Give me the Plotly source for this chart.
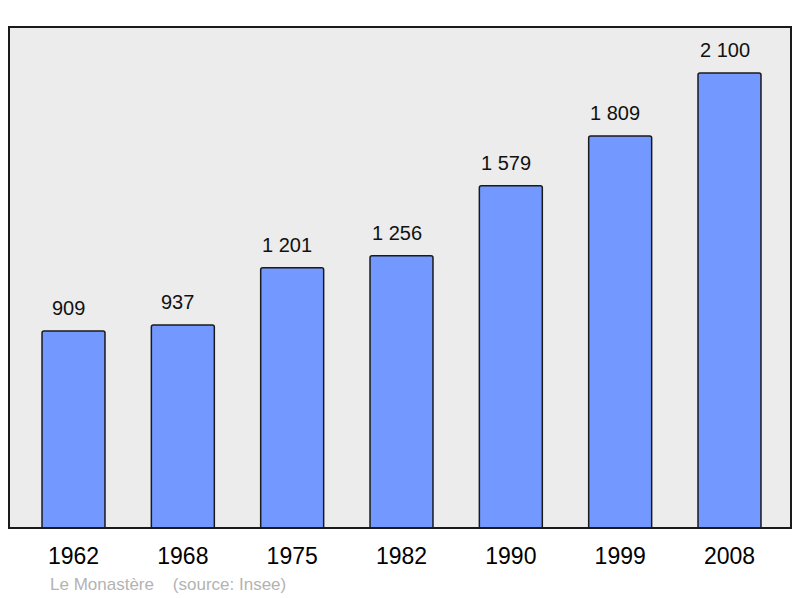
import plotly.graph_objects as go

years = ["1962", "1968", "1975", "1982", "1990", "1999", "2008"]
population = [909, 937, 1201, 1256, 1579, 1809, 2100]
labels = ["909", "937", "1 201", "1 256", "1 579", "1 809", "2 100"]
title_text = "Le Monastère    (source: Insee)"

xs = list(range(len(years)))

fig = go.Figure()
fig.add_trace(go.Bar(
    x=xs, y=population, width=0.576,
    marker=dict(color="#7398ff", line=dict(color="#1a1a1a", width=1.5), cornerradius=2),
    hoverinfo="skip",
))

for x, v, t in zip(xs, population, labels):
    fig.add_annotation(x=x, y=v, text=t, showarrow=False, yanchor="bottom",
                       yshift=10, xshift=-5,
                       font=dict(family="Liberation Sans, Arial", size=20, color="#111"))

fig.add_shape(type="rect", xref="paper", yref="paper", x0=0, y0=0, x1=1, y1=1,
              line=dict(color="#1a1a1a", width=2), layer="above")

fig.add_annotation(xref="paper", yref="paper", x=(48 - 9) / 782, y=-(584 - 528) / 501,
                   xanchor="left", yanchor="middle", text=title_text, showarrow=False,
                   font=dict(family="Liberation Sans, Arial", size=17, color="#b3b3b3"))

fig.update_layout(
    width=800, height=598,
    margin=dict(l=9, r=9, t=27, b=70),
    paper_bgcolor="white", plot_bgcolor="#ececec",
    showlegend=False,
    xaxis=dict(range=[-0.59, 6.5625], tickvals=xs, ticktext=years, showgrid=False,
               zeroline=False, ticks="", ticklabelstandoff=12,
               tickfont=dict(family="Liberation Sans, Arial", size=23, color="#000"),
               fixedrange=True),
    yaxis=dict(range=[0, 2312], showticklabels=False, showgrid=False, zeroline=False,
               ticks="", fixedrange=True),
)

fig.write_html("out.html", config={"displayModeBar": False},
               post_script="document.body.style.margin='0';document.body.style.overflow='hidden';")
